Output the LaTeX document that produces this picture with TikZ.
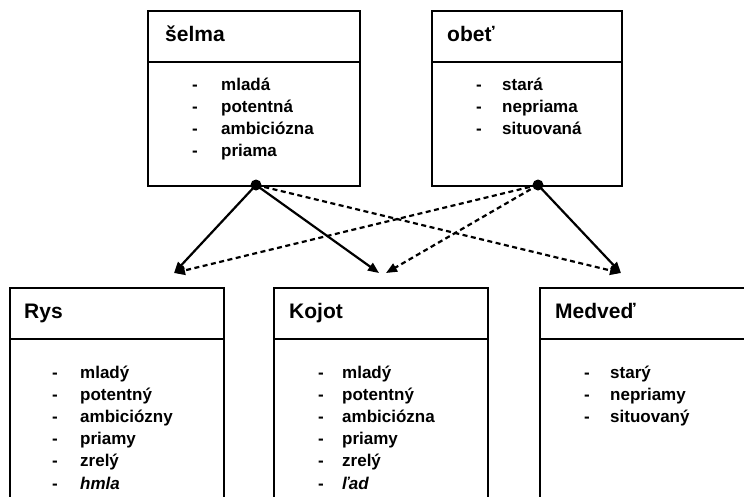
\documentclass[tikz,border=0pt]{standalone}
\usepackage{fontspec}
\setmainfont{Liberation Sans}
\usetikzlibrary{arrows.meta}
\begin{document}
\begin{tikzpicture}[x=1pt,y=-1pt,
  box/.style={draw, line width=2.2pt, rectangle, anchor=north west, inner sep=0pt},
  divider/.style={line width=2.2pt},
  ttl/.style={anchor=base west, inner sep=0pt, font=\fontsize{21}{24}\selectfont\bfseries},
  itm/.style={anchor=base west, inner sep=0pt, font=\fontsize{17}{20}\selectfont\bfseries},
  rel/.style={line width=2.2pt, -{Triangle[length=11pt,width=9pt]}},
  weak/.style={rel, dash pattern=on 5pt off 3.5pt},
  dot/.style={circle, fill=black, inner sep=0pt, minimum size=11pt}
]
\useasboundingbox (0,0) rectangle (744,496);
\clip (0,0) rectangle (744,496);

% top boxes
\node[box, minimum width=212pt, minimum height=175pt] (selma) at (147,10) {};
\node[box, minimum width=190pt, minimum height=175pt] (obet) at (431,10) {};
% bottom boxes
\node[box, minimum width=214pt, minimum height=230pt] (rys) at (9,287) {};
\node[box, minimum width=214pt, minimum height=230pt] (kojot) at (273,287) {};
\node[box, minimum width=230pt, minimum height=230pt] (medved) at (539,287) {};

% dividers
\foreach \b in {selma,obet,rys,kojot,medved}
  \draw[divider] ([yshift=-52pt]\b.north west) -- ([yshift=-52pt]\b.north east);

% titles
\node[ttl] (tselma) at (165,41) {šelma};
\node[ttl] (tobet) at (447,41) {obeť};
\node[ttl] (trys) at (24,318) {Rys};
\node[ttl] (tkojot) at (289,318) {Kojot};
\node[ttl] (tmedved) at (555,318) {Medveď};

% items
\foreach \t [count=\i] in {mladá,potentná,ambiciózna,priama}{
  \node[itm] (sd\i) at (192,{90+22.3*(\i-1)}) {-};
  \node[itm] (si\i) at (221,{90+22.3*(\i-1)}) {\t};
}
\foreach \t [count=\i] in {stará,nepriama,situovaná}{
  \node[itm] (od\i) at (476,{90+22.3*(\i-1)}) {-};
  \node[itm] (oi\i) at (502,{90+22.3*(\i-1)}) {\t};
}
\foreach \t [count=\i] in {mladý,potentný,ambiciózny,priamy,zrelý,\textit{hmla}}{
  \node[itm] (rd\i) at (52,{378+22.2*(\i-1)}) {-};
  \node[itm] (ri\i) at (80,{378+22.2*(\i-1)}) {\t};
}
\foreach \t [count=\i] in {mladý,potentný,ambiciózna,priamy,zrelý,\textit{ľad}}{
  \node[itm] (kd\i) at (318,{378+22.2*(\i-1)}) {-};
  \node[itm] (ki\i) at (342,{378+22.2*(\i-1)}) {\t};
}
\foreach \t [count=\i] in {starý,nepriamy,situovaný}{
  \node[itm] (md\i) at (584,{378+22.2*(\i-1)}) {-};
  \node[itm] (mi\i) at (610,{378+22.2*(\i-1)}) {\t};
}

% dots and arrow targets
\node[dot] (sdot) at (256,185) {};
\node[dot] (odot) at (538,185) {};
\coordinate (rysin) at (174,273);
\coordinate (kojin) at (379,273);
\coordinate (kojin2) at (386,273);
\coordinate (medin) at (621,273);

% connectors
\draw[rel] (sdot.center) -- (rysin);
\draw[rel] (sdot.center) -- (kojin);
\draw[weak] (sdot.center) -- (medin);
\draw[rel] (odot.center) -- (medin);
\draw[weak] (odot.center) -- (rysin);
\draw[weak] (odot.center) -- (kojin2);
\end{tikzpicture}
\end{document}
